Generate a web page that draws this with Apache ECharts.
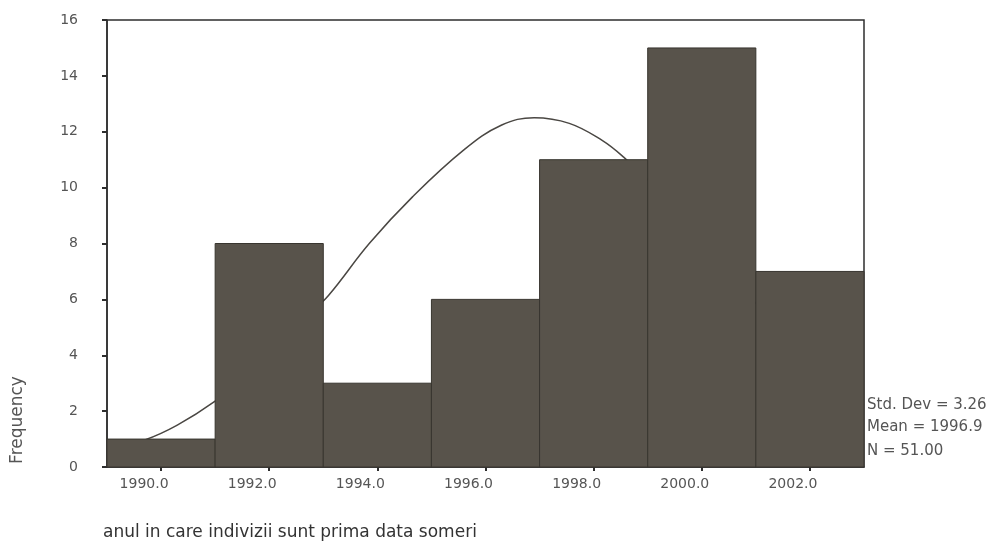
<!DOCTYPE html>
<html>
<head>
<meta charset="utf-8">
<script src="https://cdn.jsdelivr.net/npm/echarts@6/dist/echarts.min.js"></script>
<style>
html,body{margin:0;padding:0;background:#fff;}
#chart{width:987px;height:544px;}
</style>
</head>
<body>
<div id="chart"></div>
<script>
// Histogram bins (bin centres, width 2 years)
var binCenters = [1990, 1992, 1994, 1996, 1998, 2000, 2002];
var frequencies = [1, 8, 3, 6, 11, 15, 7];
var xTickValues = [1990, 1992, 1994, 1996, 1998, 2000, 2002];
var yTickValues = [0, 2, 4, 6, 8, 10, 12, 14, 16];
// Normal curve points (year, frequency)
var curveX = [1989.2, 1989.7, 1990.3, 1991.0, 1991.6, 1992.2, 1992.7, 1993.1, 1993.85, 1994.65, 1995.6, 1996.3, 1996.9, 1997.55, 1998.15, 1998.55, 1999.2, 1999.9, 2000.6, 2001.2, 2001.9, 2002.5, 2003.0];
var curveY = [0.75, 0.97, 1.5, 2.36, 3.3, 4.4, 5.4, 6.15, 8.0, 9.67, 11.35, 12.24, 12.5, 12.3, 11.7, 11.1, 9.9, 8.4, 6.8, 5.4, 3.9, 2.9, 2.2];
var binWidth = 2;
var statsLines = ['Std. Dev = 3.26', 'Mean = 1996.9', 'N = 51.00'];
var xTitle = 'anul in care indivizii sunt prima data someri';
var yTitle = 'Frequency';

var barData = binCenters.map(function (c, i) { return [c, frequencies[i]]; });
var curveData = curveX.map(function (x, i) { return [x, curveY[i]]; });

var chart = echarts.init(document.getElementById('chart'), null, {renderer: 'canvas'});
var font = 'DejaVu Sans';
chart.setOption({
  backgroundColor: '#ffffff',
  animation: false,
  grid: {left: 107, right: 123, top: 20, bottom: 77, show: true, borderColor: '#2e2e2e', borderWidth: 1.5, backgroundColor: '#ffffff'},
  xAxis: {
    type: 'value', min: 1989, max: 2003,
    axisLine: {show: true, onZero: false, lineStyle: {color: '#2e2e2e', width: 1.5}},
    axisTick: {show: true, length: 4, customValues: xTickValues, lineStyle: {color: '#2e2e2e', width: 2}},
    axisLabel: {customValues: xTickValues, margin: 10, color: '#555', fontFamily: font, fontSize: 14,
      padding: [0, 34, 0, 0],
      formatter: function (v) { return v.toFixed(1); }},
    splitLine: {show: false}
  },
  yAxis: {
    type: 'value', min: 0, max: 16, interval: 2,
    axisLine: {show: true, lineStyle: {color: '#2e2e2e', width: 1.5}},
    axisTick: {show: true, length: 5, lineStyle: {color: '#2e2e2e', width: 2}},
    axisLabel: {margin: 29, color: '#555', fontFamily: font, fontSize: 14, align: 'right'},
    splitLine: {show: false}
  },
  series: [
    {
      type: 'line',
      data: curveData,
      smooth: 0.4,
      showSymbol: false,
      lineStyle: {color: '#4a4743', width: 1.5},
      z: 1
    },
    {
      type: 'custom',
      data: barData,
      renderItem: function (params, api) {
        var c = api.value(0), v = api.value(1);
        var p0 = api.coord([c - binWidth / 2, v]);
        var p1 = api.coord([c + binWidth / 2, 0]);
        return {
          type: 'rect',
          shape: {x: p0[0], y: p0[1], width: p1[0] - p0[0], height: p1[1] - p0[1]},
          style: {fill: '#58534b', stroke: '#38352f', lineWidth: 1}
        };
      },
      z: 2
    }
  ],
  graphic: [
    {type: 'text', x: 18, y: 420, rotation: Math.PI / 2,
      style: {text: yTitle, fill: '#555', font: '17px "DejaVu Sans"', textAlign: 'center', textVerticalAlign: 'middle'}},
    {type: 'text', x: 103, y: 533,
      style: {text: xTitle, fill: '#333', font: '17px "DejaVu Sans"', textAlign: 'left', textVerticalAlign: 'middle'}},
    {type: 'text', x: 867, y: 405,
      style: {text: statsLines[0], fill: '#555', font: '15px "DejaVu Sans"', textAlign: 'left', textVerticalAlign: 'middle'}},
    {type: 'text', x: 867, y: 427,
      style: {text: statsLines[1], fill: '#555', font: '15px "DejaVu Sans"', textAlign: 'left', textVerticalAlign: 'middle'}},
    {type: 'text', x: 867, y: 451,
      style: {text: statsLines[2], fill: '#555', font: '15px "DejaVu Sans"', textAlign: 'left', textVerticalAlign: 'middle'}}
  ]
});
</script>
</body>
</html>
